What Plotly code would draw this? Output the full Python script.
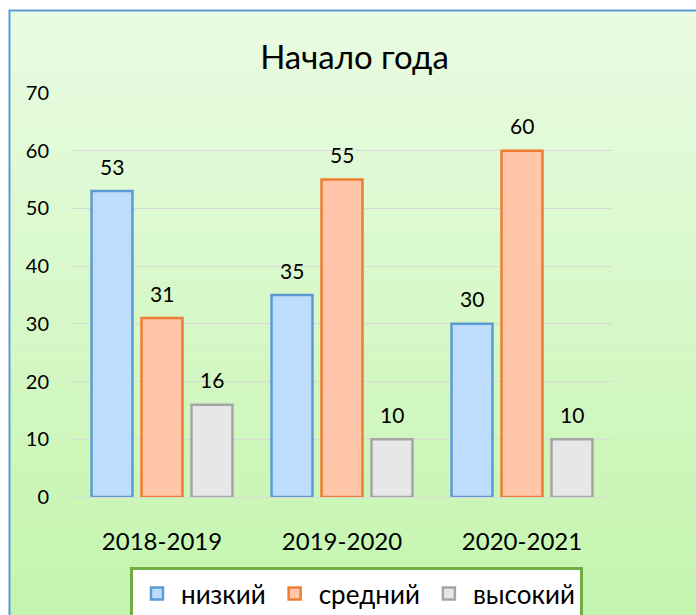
import plotly.graph_objects as go

categories = ["2018-2019", "2019-2020", "2020-2021"]
series_names = ["низкий", "средний", "высокий"]
low_vals = [53, 35, 30]
mid_vals = [31, 55, 60]
high_vals = [16, 10, 10]
y_ticks = [0, 10, 20, 30, 40, 50, 60, 70]
title_text = "Начало года"

W, H = 696, 615
ML, MR, MT, MB = 72, 84, 93, 118
PW, PH = W - ML - MR, H - MT - MB


def px_x(p):
    return (p - ML) / PW


def px_y(p):
    return (H - MB - p) / PH


FONT = "Lato, 'Open Sans', sans-serif"
fills = ["rgb(190,221,252)", "rgb(255,198,170)", "rgb(231,231,231)"]
lines = ["#5B9BD5", "#ED7D31", "#A5A5A5"]

fig = go.Figure()
all_vals = [low_vals, mid_vals, high_vals]
for name, vals, fc, lc in zip(series_names, all_vals, fills, lines):
    fig.add_trace(go.Bar(
        x=categories, y=vals, name=name,
        marker=dict(color=fc, line=dict(color=lc, width=2.5)),
    ))

# data labels
shifts = [-50, 0, 50]
for vals, sh in zip(all_vals, shifts):
    for c, v in zip(categories, vals):
        fig.add_annotation(x=c, y=v, text=str(v), showarrow=False,
                           xshift=sh, yshift=25, yanchor="middle",
                           font=dict(family=FONT, size=21, color="#000000"))

# background gradient
top = (233, 251, 226)
bot = (196, 245, 174)
n = 60
y_top, y_bot = 11, H
shapes = []
for i in range(n):
    t = i / (n - 1)
    col = tuple(round(top[k] + (bot[k] - top[k]) * t) for k in range(3))
    p0 = y_top + (y_bot - y_top) * i / n
    p1 = y_top + (y_bot - y_top) * (i + 1) / n + 0.5
    shapes.append(dict(type="rect", xref="paper", yref="paper", layer="below",
                       x0=px_x(10), x1=px_x(W + 2), y0=px_y(p1), y1=px_y(p0),
                       fillcolor="rgb(%d,%d,%d)" % col, line=dict(width=0)))
# chart border
shapes.append(dict(type="path", xref="paper", yref="paper", layer="above",
                   path="M %f %f L %f %f L %f %f" % (px_x(9.5), px_y(H + 2), px_x(9.5), px_y(10.5), px_x(W + 2), px_y(10.5)),
                   line=dict(color="#5B9BD5", width=2)))

fig.update_layout(
    width=W, height=H,
    margin=dict(l=ML, r=MR, t=MT, b=MB, autoexpand=False),
    paper_bgcolor="white", plot_bgcolor="rgba(0,0,0,0)",
    shapes=shapes,
    barmode="group", bargap=0.167, bargroupgap=0.18,
    font=dict(family=FONT, color="#000000"),
    title=dict(text=title_text, x=354.5 / W, xanchor="center", xref="container",
               y=1 - 57 / H, yanchor="middle", yref="container",
               font=dict(family=FONT, size=33, color="#000000")),
    showlegend=True,
    legend=dict(orientation="h", x=px_x(356.5), xanchor="center",
                y=px_y(567), yanchor="top", bgcolor="white",
                bordercolor="#70AD47", borderwidth=3, itemwidth=38,
                font=dict(family=FONT, size=26, color="#000000"),
                traceorder="normal"),
)
fig.update_yaxes(range=[0, 70], tickvals=y_ticks, showgrid=True, gridcolor="#D9D9D9",
                 gridwidth=1, zeroline=False, showline=False, ticks="",
                 ticklabelstandoff=22, tickfont=dict(family=FONT, size=20, color="#000000"))
fig.update_xaxes(showline=True, linecolor="#D9D9D9", linewidth=1, ticks="",
                 ticklabelstandoff=23, tickfont=dict(family=FONT, size=24, color="#000000"))

fig.write_html("out.html", config={"displayModeBar": False},
               post_script="document.body.style.margin='0';document.body.style.overflow='hidden';")
